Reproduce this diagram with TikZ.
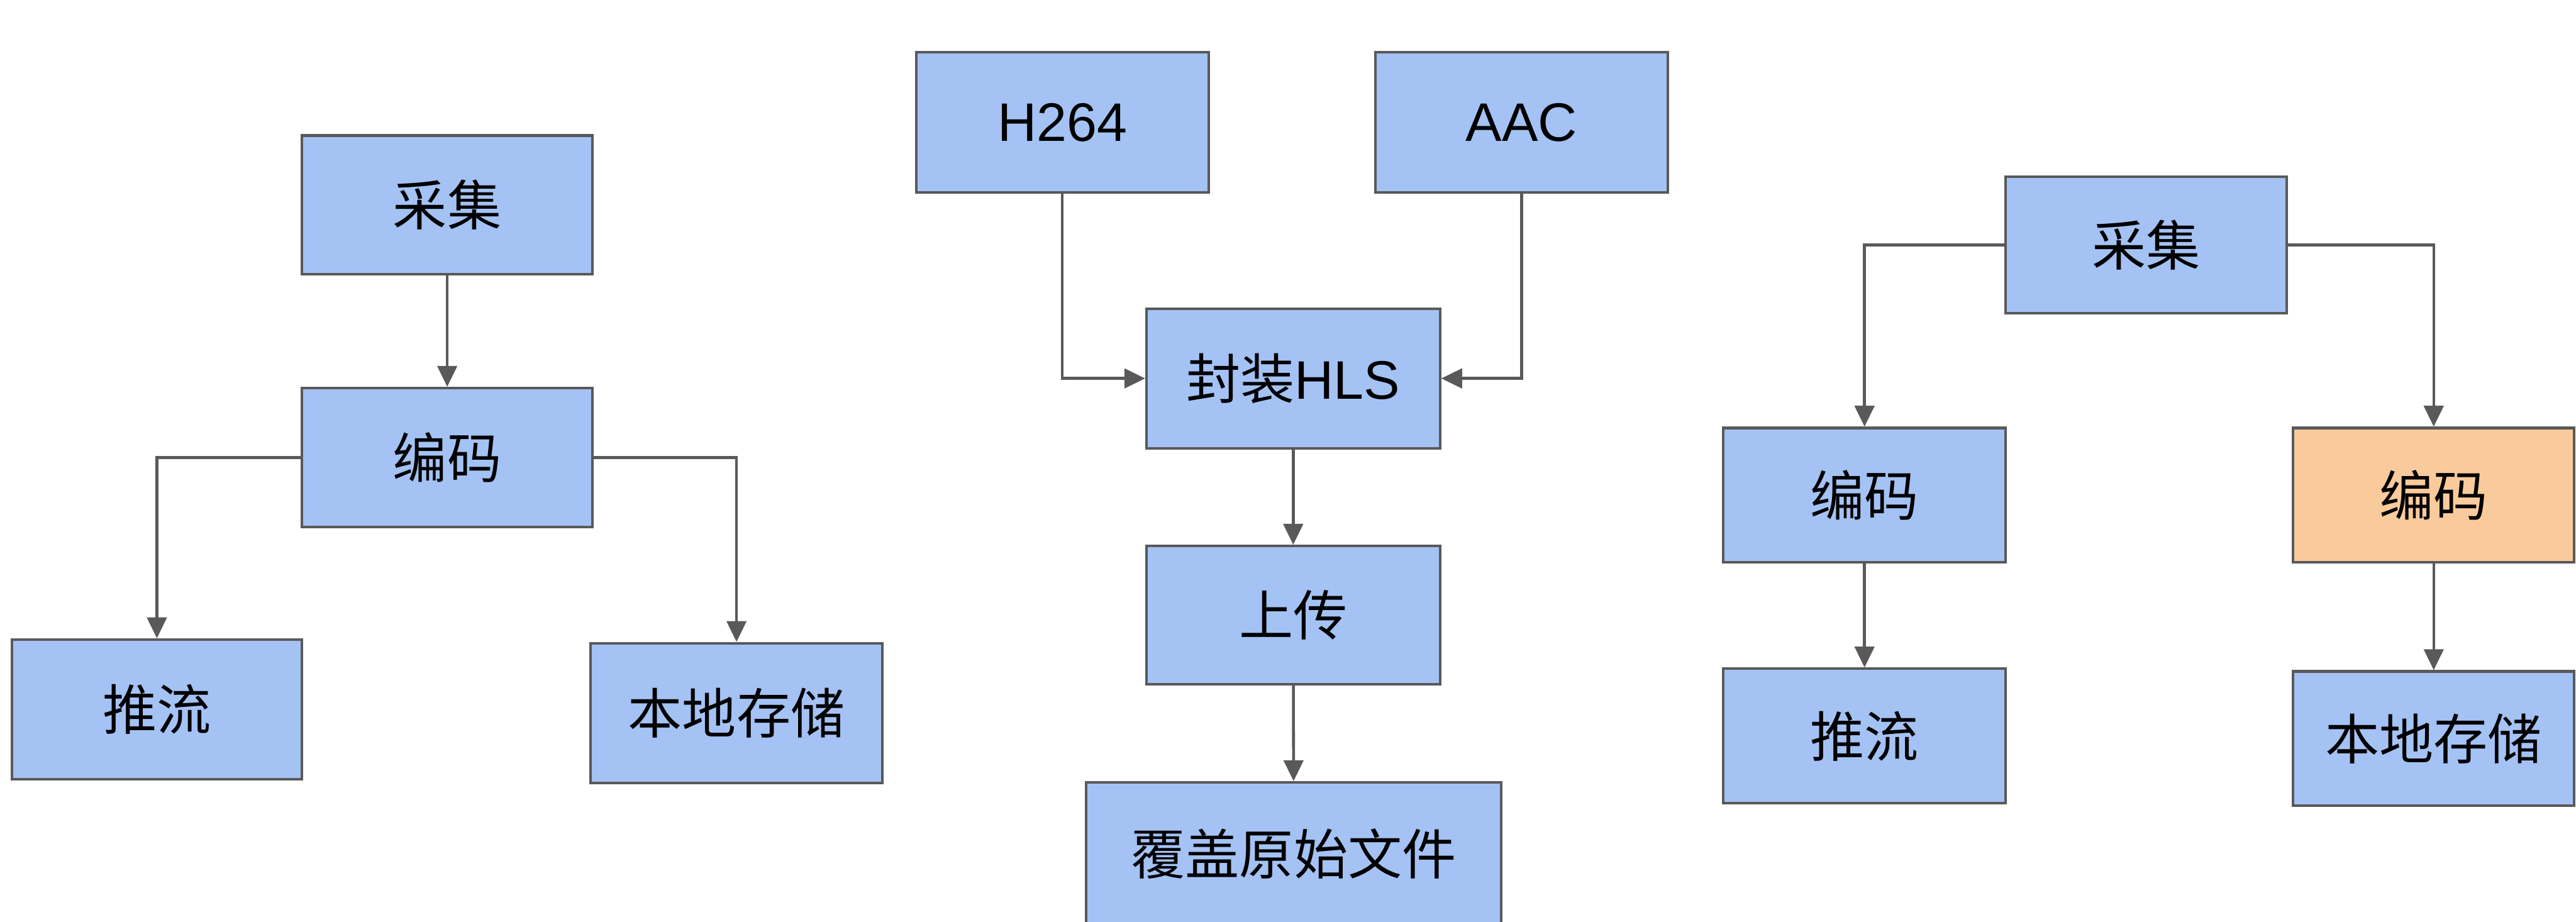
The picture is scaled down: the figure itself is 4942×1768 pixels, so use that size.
\documentclass[tikz,border=0pt]{standalone}
\usepackage{fontspec}
\setmainfont{Liberation Sans}
\newfontfamily\cjk{Noto Sans CJK SC}
\usetikzlibrary{arrows.meta}
\definecolor{boxblue}{HTML}{A4C2F4}
\definecolor{boxorange}{HTML}{F9CB9C}
\definecolor{edgegray}{HTML}{595959}
\begin{document}
\begin{tikzpicture}[x=0.2pt,y=-0.2pt,
  box/.style={draw=edgegray, line width=1pt, fill=boxblue, inner sep=0pt,
    font=\fontsize{20.8pt}{24pt}\selectfont, text=black},
  orangebox/.style={box, fill=boxorange},
  arr/.style={draw=edgegray, line width=1.1pt, -{Triangle[length=8pt,width=7.5pt]}}]
\clip (0,0) rectangle (4942,1768);
\fill[white] (0,0) rectangle (4942,1768);
% left diagram
\node[box, minimum width=111.4pt, minimum height=53.2pt] (a1) at (858,393) {\cjk 采集};
\node[box, minimum width=111.4pt, minimum height=53.4pt] (a2) at (858,878) {\cjk 编码};
\node[box, minimum width=111.4pt, minimum height=53.6pt] (a3) at (301,1361) {\cjk 推流};
\node[box, minimum width=112pt, minimum height=53.6pt] (a4) at (1413,1368) {\cjk 本地存储};
\draw[arr] (a1) -- (a2);
\draw[arr] (a2.west) -| (a3.north);
\draw[arr] (a2.east) -| (a4.north);
% middle diagram
\node[box, minimum width=112.2pt, minimum height=53.8pt] (b1) at (2038,235) {H264};
\node[box, minimum width=112.2pt, minimum height=53.8pt] (b2) at (2919,235) {AAC};
\node[box, minimum width=112.6pt, minimum height=53.6pt] (b3) at (2481,726) {{\cjk 封装}HLS};
\node[box, minimum width=112.6pt, minimum height=53pt] (b4) at (2481,1180) {\cjk 上传};
\node[box, minimum width=159.2pt, minimum height=54.8pt] (b5) at (2482,1638) {\cjk 覆盖原始文件};
\draw[arr] (b1.south) |- (b3.west);
\draw[arr] (b2.south) |- (b3.east);
\draw[arr] (b3) -- (b4);
\draw[arr] (b4) -- (b5);
% right diagram
\node[box, minimum width=107.8pt, minimum height=52.4pt] (c1) at (4117,470) {\cjk 采集};
\node[box, minimum width=108.4pt, minimum height=51.6pt] (c2) at (3577,950) {\cjk 编码};
\node[orangebox, minimum width=107.8pt, minimum height=51.6pt] (c3) at (4669,950) {\cjk 编码};
\node[box, minimum width=108.4pt, minimum height=51.6pt] (c4) at (3577,1412) {\cjk 推流};
\node[box, minimum width=107.8pt, minimum height=51.6pt] (c5) at (4669,1417) {\cjk 本地存储};
\draw[arr] (c1.west) -| (c2.north);
\draw[arr] (c1.east) -| (c3.north);
\draw[arr] (c2) -- (c4);
\draw[arr] (c3) -- (c5);
\end{tikzpicture}
\end{document}
